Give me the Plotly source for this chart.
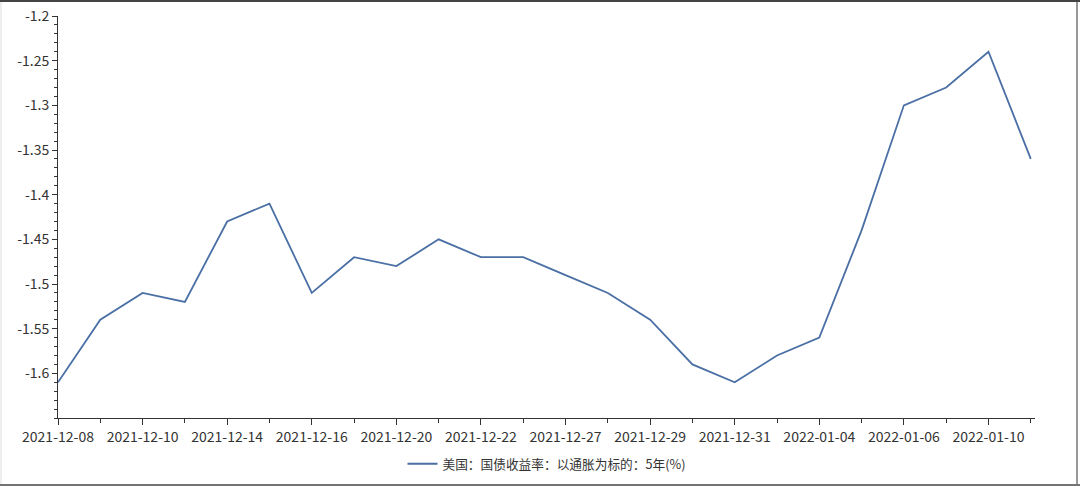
import plotly.graph_objects as go

dates = ["2021-12-08", "2021-12-09", "2021-12-10", "2021-12-13", "2021-12-14", "2021-12-15",
         "2021-12-16", "2021-12-17", "2021-12-20", "2021-12-21", "2021-12-22", "2021-12-23",
         "2021-12-27", "2021-12-28", "2021-12-29", "2021-12-30", "2021-12-31", "2022-01-03",
         "2022-01-04", "2022-01-05", "2022-01-06", "2022-01-07", "2022-01-10", "2022-01-11"]
values = [-1.61, -1.54, -1.51, -1.52, -1.43, -1.41, -1.51, -1.47, -1.48, -1.45, -1.47, -1.47,
          -1.49, -1.51, -1.54, -1.59, -1.61, -1.58, -1.56, -1.44, -1.30, -1.28, -1.24, -1.36]
y_ticks = [-1.2, -1.25, -1.3, -1.35, -1.4, -1.45, -1.5, -1.55, -1.6]
y_tick_text = ["-1.2", "-1.25", "-1.3", "-1.35", "-1.4", "-1.45", "-1.5", "-1.55", "-1.6"]
series_name = "美国：国债收益率：以通胀为标的：5年(%)"

idx = list(range(len(dates)))
major_idx = idx[::2]
minor_idx = idx[1::2]

W, H = 1080, 490
ml, mr, mt, mb = 58, 45, 16, 72
pw, ph = W - ml - mr, H - mt - mb

fig = go.Figure()
fig.add_trace(go.Scatter(x=idx, y=values, mode="lines", name=series_name,
                         line=dict(color="#4a6fa5", width=1.8), showlegend=True))

axis_col = "#333333"
fig.update_layout(
    width=W, height=H,
    margin=dict(l=ml, r=mr, t=mt, b=mb, autoexpand=False),
    paper_bgcolor="white", plot_bgcolor="white",
    font=dict(family="Noto Sans CJK SC, Noto Sans, sans-serif", size=13, color="#333333"),
    xaxis=dict(range=[0, 23.1], tickmode="array", tickvals=major_idx,
               ticktext=[dates[i] for i in major_idx], automargin=False,
               showgrid=False, zeroline=False, showline=True, linecolor=axis_col, linewidth=1,
               ticks="outside", ticklen=6, tickcolor=axis_col,
               minor=dict(tickmode="array", tickvals=minor_idx, ticks="outside", ticklen=4,
                          tickcolor=axis_col, showgrid=False),
               tickfont=dict(size=14, color="#333333")),
    yaxis=dict(range=[-1.65, -1.2], tickmode="array", tickvals=y_ticks, ticktext=y_tick_text,
               automargin=False,
               showgrid=False, zeroline=False, showline=True, linecolor=axis_col, linewidth=1,
               ticks="outside", ticklen=5, tickcolor=axis_col,
               minor=dict(tick0=0, dtick=0.01, ticks="outside", ticklen=3,
                          tickcolor=axis_col, showgrid=False),
               tickfont=dict(size=14, color="#333333")),
    legend=dict(orientation="h", x=0.5, xanchor="center", y=(mt + ph - 464) / ph,
                yanchor="middle", font=dict(size=12.7, color="#333333")),
)

def px(xp):
    return (xp - ml) / pw

def py(yp):
    return (mt + ph - yp) / ph

fig.add_shape(type="line", xref="paper", yref="paper", x0=px(0), x1=px(1080), y0=py(1), y1=py(1),
              line=dict(color="#444444", width=2))
fig.add_shape(type="line", xref="paper", yref="paper", x0=px(0), x1=px(1080), y0=py(485), y1=py(485),
              line=dict(color="#444444", width=1.5))
fig.add_shape(type="line", xref="paper", yref="paper", x0=px(1077), x1=px(1077), y0=py(2), y1=py(484),
              line=dict(color="#999999", width=2))
fig.add_shape(type="line", xref="paper", yref="paper", x0=px(1), x1=px(1), y0=py(2), y1=py(484),
              line=dict(color="#eeeeee", width=2))

fig.write_html("out.html", post_script="document.body.style.margin='0px';",
               config={"displayModeBar": False})
